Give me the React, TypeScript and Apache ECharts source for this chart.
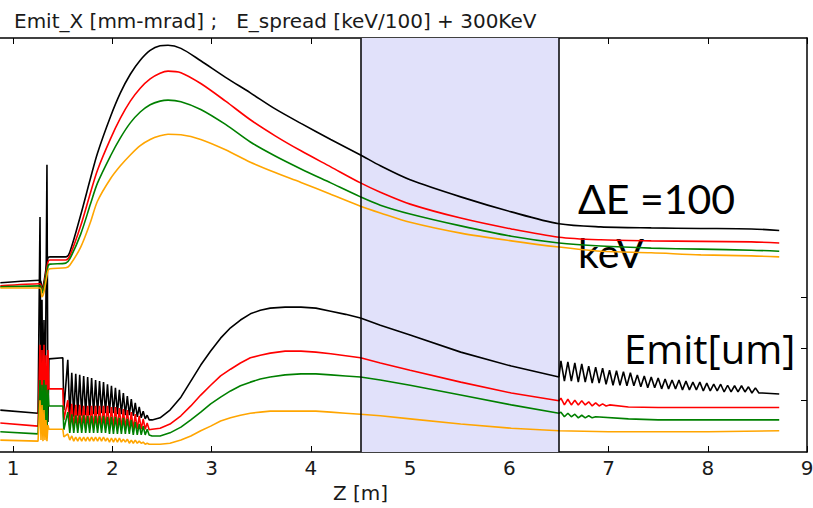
import React, { useEffect, useRef } from "react";
import * as echarts from "echarts";

// ---- Data (Z in metres; values in mm-mrad / keV/100 + 3) ----
const zUpper = [0.87, 1.27, 1.29, 1.31, 1.35, 1.37, 1.53, 1.57, 1.68, 1.78, 1.85, 1.98, 2.08, 2.18, 2.28, 2.38, 2.48, 2.56, 2.69, 2.89, 3.14, 3.39, 3.64, 3.9, 4.2, 4.5, 4.7, 5.0, 5.51, 6.02, 6.5, 6.92, 7.43, 7.93, 8.44, 8.72];
const espreadBlack = [3.27, 3.32, 3.13, 3.29, 3.75, 3.77, 3.77, 3.86, 4.58, 5.3, 5.78, 6.48, 6.94, 7.3, 7.57, 7.76, 7.85, 7.86, 7.8, 7.56, 7.24, 6.94, 6.63, 6.35, 6.04, 5.74, 5.53, 5.26, 4.93, 4.64, 4.41, 4.35, 4.33, 4.32, 4.31, 4.28];
const espreadRed = [3.21, 3.25, 3.09, 3.23, 3.67, 3.71, 3.71, 3.79, 4.37, 5.02, 5.45, 6.05, 6.45, 6.78, 7.03, 7.21, 7.32, 7.36, 7.33, 7.12, 6.78, 6.42, 6.11, 5.82, 5.51, 5.2, 5.02, 4.79, 4.52, 4.31, 4.15, 4.1, 4.08, 4.07, 4.06, 4.04];
const espreadGreen = [3.19, 3.21, 3.07, 3.19, 3.59, 3.63, 3.65, 3.73, 4.21, 4.8, 5.2, 5.72, 6.07, 6.36, 6.57, 6.71, 6.78, 6.8, 6.77, 6.62, 6.33, 5.99, 5.72, 5.47, 5.2, 4.93, 4.77, 4.6, 4.37, 4.17, 4.04, 3.98, 3.94, 3.92, 3.9, 3.88];
const espreadOrange = [3.17, 3.17, 3.0, 3.09, 3.5, 3.54, 3.56, 3.61, 3.96, 4.45, 4.85, 5.28, 5.53, 5.74, 5.92, 6.04, 6.11, 6.14, 6.13, 6.04, 5.84, 5.6, 5.4, 5.21, 4.98, 4.75, 4.62, 4.44, 4.23, 4.08, 3.96, 3.88, 3.85, 3.81, 3.79, 3.77];

const zPre = [0.87, 1.25, 1.27, 1.28, 1.29, 1.3, 1.31, 1.32, 1.33, 1.34, 1.35, 1.36, 1.5, 1.51];
const emitBlackPre = [0.81, 0.75, 4.54, 0.62, 2.94, 0.43, 2.55, 0.52, 2.94, 5.55, 0.58, 1.8, 1.82, 0.81];
const emitRedPre = [0.56, 0.5, 2.07, 0.43, 1.97, 0.62, 2.07, 0.62, 1.87, 0.52, 1.97, 1.22, 1.22, 0.62];
const emitGreenPre = [0.39, 0.35, 1.39, 0.43, 1.3, 0.46, 1.39, 0.43, 1.3, 0.39, 1.2, 0.89, 0.89, 0.43];
const emitOrangePre = [0.23, 0.21, 1.0, 0.23, 0.91, 0.21, 0.81, 0.23, 0.62, 0.21, 0.52, 0.44, 0.44, 0.29];

const zRipple1 = [1.55, 1.57, 1.59, 1.61, 1.63, 1.65, 1.67, 1.69, 1.71, 1.73, 1.75, 1.77, 1.79, 1.81, 1.83, 1.85, 1.87, 1.89, 1.91, 1.93, 1.95, 1.97, 1.99, 2.01, 2.03, 2.05, 2.07, 2.09, 2.11, 2.13, 2.15, 2.17, 2.19, 2.21, 2.23, 2.25, 2.27, 2.29, 2.31, 2.33, 2.35, 2.37];
const emitBlackRipple1 = [1.78, 0.66, 1.53, 0.68, 1.51, 0.7, 1.49, 0.7, 1.47, 0.71, 1.45, 0.71, 1.43, 0.73, 1.39, 0.73, 1.37, 0.75, 1.35, 0.75, 1.31, 0.75, 1.28, 0.75, 1.24, 0.73, 1.2, 0.73, 1.14, 0.71, 1.08, 0.71, 1.02, 0.7, 0.95, 0.68, 0.87, 0.66, 0.79, 0.64, 0.71, 0.62];
const emitRedRipple1 = [1.0, 0.46, 0.93, 0.46, 0.91, 0.46, 0.91, 0.46, 0.89, 0.46, 0.89, 0.46, 0.89, 0.46, 0.89, 0.46, 0.89, 0.46, 0.89, 0.46, 0.89, 0.46, 0.87, 0.46, 0.87, 0.46, 0.85, 0.44, 0.83, 0.44, 0.81, 0.44, 0.77, 0.44, 0.73, 0.44, 0.7, 0.44, 0.64, 0.44, 0.56, 0.43];
const emitGreenRipple1 = [0.77, 0.37, 0.73, 0.37, 0.71, 0.37, 0.71, 0.37, 0.71, 0.37, 0.7, 0.37, 0.7, 0.37, 0.7, 0.37, 0.7, 0.37, 0.7, 0.37, 0.68, 0.35, 0.68, 0.35, 0.68, 0.35, 0.66, 0.35, 0.66, 0.35, 0.64, 0.35, 0.62, 0.33, 0.58, 0.33, 0.54, 0.33, 0.5, 0.33, 0.44, 0.33];
const emitOrangeRipple1 = [0.35, 0.23, 0.31, 0.21, 0.29, 0.21, 0.29, 0.21, 0.29, 0.21, 0.29, 0.21, 0.29, 0.21, 0.29, 0.21, 0.29, 0.21, 0.29, 0.21, 0.27, 0.19, 0.27, 0.19, 0.27, 0.19, 0.27, 0.19, 0.25, 0.19, 0.25, 0.17, 0.23, 0.17, 0.23, 0.17, 0.21, 0.17, 0.19, 0.15, 0.17, 0.15];

const zMid = [2.4, 2.48, 2.58, 2.69, 2.79, 2.89, 2.99, 3.09, 3.19, 3.29, 3.39, 3.49, 3.59, 3.74, 3.9, 4.05, 4.2, 4.35, 4.5, 4.7, 5.0, 5.51, 6.02, 6.5];
const emitBlackMid = [0.62, 0.66, 0.81, 1.06, 1.37, 1.68, 1.95, 2.2, 2.4, 2.55, 2.67, 2.74, 2.78, 2.8, 2.8, 2.78, 2.72, 2.66, 2.59, 2.45, 2.26, 1.93, 1.66, 1.45];
const emitRedMid = [0.44, 0.46, 0.54, 0.7, 0.89, 1.1, 1.29, 1.47, 1.6, 1.72, 1.82, 1.87, 1.91, 1.95, 1.95, 1.93, 1.9, 1.86, 1.82, 1.72, 1.58, 1.35, 1.14, 0.99];
const emitGreenMid = [0.31, 0.31, 0.37, 0.48, 0.62, 0.77, 0.93, 1.06, 1.18, 1.28, 1.35, 1.41, 1.45, 1.49, 1.51, 1.51, 1.49, 1.47, 1.45, 1.39, 1.29, 1.1, 0.91, 0.75];
const emitOrangeMid = [0.15, 0.15, 0.17, 0.23, 0.31, 0.41, 0.5, 0.6, 0.66, 0.71, 0.75, 0.77, 0.79, 0.79, 0.79, 0.79, 0.77, 0.75, 0.73, 0.7, 0.64, 0.54, 0.46, 0.41];

const zRipple2 = [6.52, 6.555, 6.59, 6.625, 6.66, 6.695, 6.73, 6.765, 6.8, 6.835, 6.87, 6.905, 6.94, 6.975, 7.01, 7.045, 7.08, 7.115, 7.15, 7.185, 7.22, 7.255, 7.29, 7.325, 7.36, 7.395, 7.43, 7.465, 7.5, 7.535, 7.57, 7.605, 7.64, 7.675, 7.71, 7.745, 7.78, 7.815, 7.85, 7.885, 7.92, 7.955, 7.99, 8.025, 8.06, 8.095, 8.13, 8.165, 8.2, 8.235, 8.27, 8.305, 8.34, 8.375, 8.41, 8.445, 8.48, 8.515];
const emitBlackRipple2 = [1.76, 1.37, 1.74, 1.37, 1.72, 1.35, 1.7, 1.35, 1.66, 1.33, 1.64, 1.33, 1.62, 1.31, 1.58, 1.29, 1.57, 1.29, 1.55, 1.28, 1.53, 1.28, 1.49, 1.26, 1.47, 1.24, 1.45, 1.24, 1.43, 1.22, 1.41, 1.22, 1.39, 1.22, 1.39, 1.2, 1.37, 1.2, 1.35, 1.2, 1.35, 1.18, 1.33, 1.18, 1.31, 1.18, 1.31, 1.16, 1.29, 1.16, 1.28, 1.16, 1.28, 1.16, 1.26, 1.14, 1.24, 1.14];
const zBlackTail = [8.55, 8.72];
const emitBlackTail = [1.14, 1.12];
const zRedTail = [6.52, 6.555, 6.59, 6.625, 6.66, 6.695, 6.73, 6.765, 6.8, 6.835, 6.87, 6.905, 6.94, 6.975, 7.01, 7.2, 7.5, 8.0, 8.72];
const emitRedTail = [1.04, 0.91, 1.02, 0.91, 1.0, 0.91, 0.99, 0.91, 0.97, 0.89, 0.95, 0.89, 0.93, 0.89, 0.91, 0.87, 0.86, 0.86, 0.86];
const zGreenTail = [6.52, 6.555, 6.59, 6.625, 6.66, 6.695, 6.73, 6.765, 6.8, 6.835, 6.87, 7.2, 7.5, 8.0, 8.72];
const emitGreenTail = [0.77, 0.68, 0.75, 0.68, 0.73, 0.66, 0.71, 0.66, 0.7, 0.66, 0.68, 0.64, 0.62, 0.62, 0.62];
const zOrangeTail = [7.0, 7.5, 8.0, 8.72];
const emitOrangeTail = [0.39, 0.39, 0.39, 0.41];

const bandRange = [4.5, 6.5];
const rightTicks = [1, 2, 3];

const COLORS = { black: "#000000", red: "#ff0000", green: "#008000", orange: "#ffa500" };

const zip = (xs: number[], ys: number[]) => xs.map((x, i) => [x, ys[i]]);

export default function App() {
  const ref = useRef<HTMLDivElement>(null);
  useEffect(() => {
    if (!ref.current) return;
    const chart = echarts.init(ref.current, null, { renderer: "svg" });

    const lineSeries = (name: string, color: string, data: number[][], smooth: number | boolean) => ({
      name,
      type: "line",
      data,
      showSymbol: false,
      symbol: "none",
      smooth,
      silent: true,
      z: 3,
      lineStyle: { color, width: 1.6 },
      emphasis: { disabled: true },
    });

    const lower = (pre: number[], r1: number[], mid: number[], tails: [number[], number[]][]) => {
      let d = [...zip(zPre, pre), ...zip(zRipple1, r1), ...zip(zMid, mid)];
      tails.forEach(([xs, ys]) => { d = d.concat(zip(xs, ys)); });
      return d;
    };

    const textStyle = { fontFamily: "DejaVu Sans", fontSize: 20, color: "#1a1a1a" };

    chart.setOption({
      animation: false,
      title: {
        text: "Emit_X [mm-mrad] ;   E_spread [keV/100] + 300KeV",
        left: 9,
        top: 6,
        textStyle: { ...textStyle, fontWeight: "normal" },
      },
      grid: { left: -86, right: 6, top: 38, bottom: 56, containLabel: false, outerBoundsMode: "none" },
      xAxis: [
        {
          type: "value", min: 0, max: 9, interval: 1, position: "bottom",
          axisLine: { show: true, onZero: false, lineStyle: { color: "#000", width: 1.5 } },
          axisTick: { show: true, inside: true, length: 6, lineStyle: { color: "#000", width: 1 } },
          axisLabel: { ...textStyle, margin: 6, showMinLabel: false, showMaxLabel: true, hideOverlap: false },
          splitLine: { show: false },
          name: "Z [m]", nameLocation: "middle", nameGap: 28,
          nameTextStyle: textStyle,
        },
        {
          type: "value", min: 0, max: 9, interval: 1, position: "top",
          axisLine: { show: true, onZero: false, lineStyle: { color: "#000", width: 1.5 } },
          axisTick: { show: true, inside: true, length: 6, lineStyle: { color: "#000", width: 1 } },
          axisLabel: { show: false },
          splitLine: { show: false },
        },
      ],
      yAxis: [
        {
          type: "value", min: 0, max: 8, interval: 1, position: "left",
          axisLine: { show: true, onZero: false, lineStyle: { color: "#000", width: 1.5 } },
          axisTick: { show: false }, axisLabel: { show: false }, splitLine: { show: false },
        },
        {
          type: "value", min: 0, max: 8, interval: 1, position: "right",
          axisLine: { show: true, onZero: false, lineStyle: { color: "#000", width: 1.5 } },
          axisTick: { show: true, inside: true, length: 6, customValues: rightTicks, lineStyle: { color: "#000", width: 1 } },
          axisLabel: { show: false }, splitLine: { show: false },
        },
      ],
      graphic: [
        { type: "text", left: 578, top: 178, silent: true, style: { text: "ΔE =100", fontFamily: "Lato", fontSize: 41, fill: "#000" } },
        { type: "text", left: 578, top: 232, silent: true, style: { text: "keV", fontFamily: "Lato", fontSize: 41, fill: "#000" } },
        { type: "text", left: 624, top: 328, silent: true, style: { text: "Emit[um]", fontFamily: "Open Sans", fontSize: 40, fill: "#000" } },
      ],
      series: [
        {
          name: "band", type: "line", data: [], z: 1, silent: true,
          markArea: {
            silent: true,
            itemStyle: { color: "#e1e1fa", opacity: 1 },
            data: [[{ xAxis: bandRange[0] }, { xAxis: bandRange[1] }]],
          },
          markLine: {
            silent: true, symbol: "none",
            label: { show: false },
            lineStyle: { color: "#000", width: 1.5, type: "solid" },
            data: bandRange.map((v) => ({ xAxis: v })),
          },
        },
        lineSeries("E_spread black", COLORS.black, zip(zUpper, espreadBlack), 0.3),
        lineSeries("Emit black", COLORS.black, lower(emitBlackPre, emitBlackRipple1, emitBlackMid, [[zRipple2, emitBlackRipple2], [zBlackTail, emitBlackTail]]), false),
        lineSeries("E_spread red", COLORS.red, zip(zUpper, espreadRed), 0.3),
        lineSeries("Emit red", COLORS.red, lower(emitRedPre, emitRedRipple1, emitRedMid, [[zRedTail, emitRedTail]]), false),
        lineSeries("E_spread green", COLORS.green, zip(zUpper, espreadGreen), 0.3),
        lineSeries("Emit green", COLORS.green, lower(emitGreenPre, emitGreenRipple1, emitGreenMid, [[zGreenTail, emitGreenTail]]), false),
        lineSeries("E_spread orange", COLORS.orange, zip(zUpper, espreadOrange), 0.3),
        lineSeries("Emit orange", COLORS.orange, lower(emitOrangePre, emitOrangeRipple1, emitOrangeMid, [[zOrangeTail, emitOrangeTail]]), false),
      ],
    });
    return () => chart.dispose();
  }, []);

  return (
    <div
      ref={ref}
      style={{ position: "fixed", left: 0, top: 0, width: 813, height: 508, background: "#fff" }}
    />
  );
}
